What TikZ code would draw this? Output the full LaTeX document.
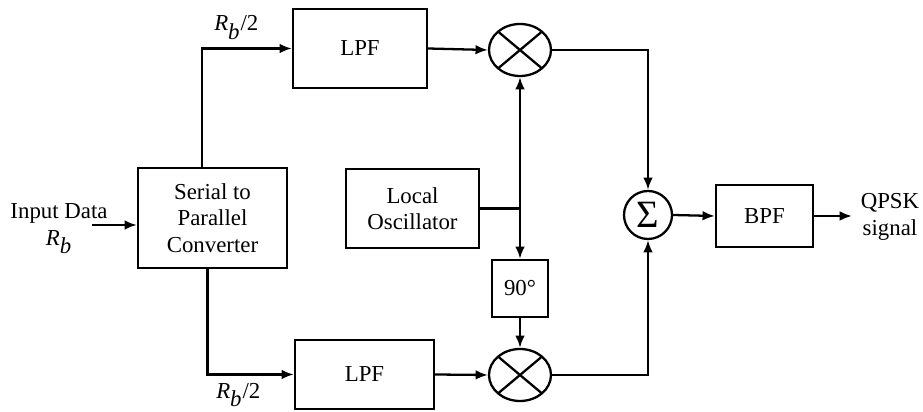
\documentclass[tikz,border=0pt]{standalone}
\usepackage{fontspec}
\setmainfont{Liberation Serif}
\usetikzlibrary{arrows.meta,positioning,calc,shapes.geometric}

\begin{document}
\begin{tikzpicture}[x=0.2cm,y=0.2cm,line width=1.3pt,
  font=\fontsize{13}{15}\selectfont,
  blk/.style={draw,align=center,inner sep=0pt},
  mixer/.style={draw,ellipse,minimum width=1.24cm,minimum height=1.04cm,inner sep=0pt,
    path picture={\draw (path picture bounding box.north west) -- (path picture bounding box.south east)
      (path picture bounding box.south west) -- (path picture bounding box.north east);}},
  arr/.style={-{Latex[length=7pt,width=5.5pt]}}]
  \useasboundingbox (0,0) rectangle (92.3,41.2);

  \node[blk,minimum width=2.98cm,minimum height=2cm] (conv) at (21.25,19.4) {Serial to\\Parallel\\Converter};
  \node[blk,minimum width=2.68cm,minimum height=1.58cm] (lpfI) at (36.0,36.35) {LPF};
  \node[blk,minimum width=2.78cm,minimum height=1.38cm] (lpfQ) at (36.45,3.75) {LPF};
  \node[blk,minimum width=2.66cm,minimum height=1.58cm] (lo) at (41.25,20.35) {Local\\Oscillator};
  \node[blk,minimum width=1.12cm,minimum height=1.14cm] (ph) at (52.0,12.35) {90°};
  \node[mixer] (mixI) at (52.0,36.2) {};
  \node[mixer] (mixQ) at (52.0,3.7) {};
  \node[draw,circle,minimum size=0.96cm,inner sep=0pt,font=\fontsize{22}{22}\selectfont] (sum) at (64.8,19.7) {Σ};
  \node[blk,minimum width=1.94cm,minimum height=1.24cm] (bpf) at (76.45,19.6) {BPF};

  \node[align=center] (inp) at (5.9,18.3) {Input Data\\\textit{R}$_{\textit{b}}$};
  \node[align=center] (outp) at (89.0,19.5) {QPSK\\signal};

  \coordinate (src) at (9.2,18.7);
  \coordinate (cI) at (20.2,36.35);
  \coordinate (cQ) at (20.75,3.75);
  \coordinate (tap) at (lo.east -| mixI);
  \coordinate (dst) at (85.2,19.6);

  \node[above right=1pt and 3pt of cI] (rI) {\textit{R}$_{\textit{b}}$/2};
  \node[below right=1pt and 1pt of cQ] (rQ) {\textit{R}$_{\textit{b}}$/2};

  \draw[arr] (src) -- (src -| conv.west);
  \draw[arr] (cI |- conv.north) -- (cI) -- (lpfI.west);
  \draw[arr] (cQ |- conv.south) -- (cQ) -- (lpfQ.west);
  \draw[arr] (lpfI.east) -- (mixI.west);
  \draw[arr] (lpfQ.east) -- (mixQ.west);
  \draw (lo.east) -- (tap);
  \draw[arr] (tap) -- (mixI.south);
  \draw[arr] (tap) -- (ph.north);
  \draw[arr] (ph.south) -- (mixQ.north);
  \draw[arr] (mixI.east) -- (mixI.east -| sum) -- (sum.north);
  \draw[arr] (mixQ.east) -- (mixQ.east -| sum) -- (sum.south);
  \draw[arr] (sum.east) -- (bpf.west);
  \draw[arr] (bpf.east) -- (dst);
\end{tikzpicture}
\end{document}
